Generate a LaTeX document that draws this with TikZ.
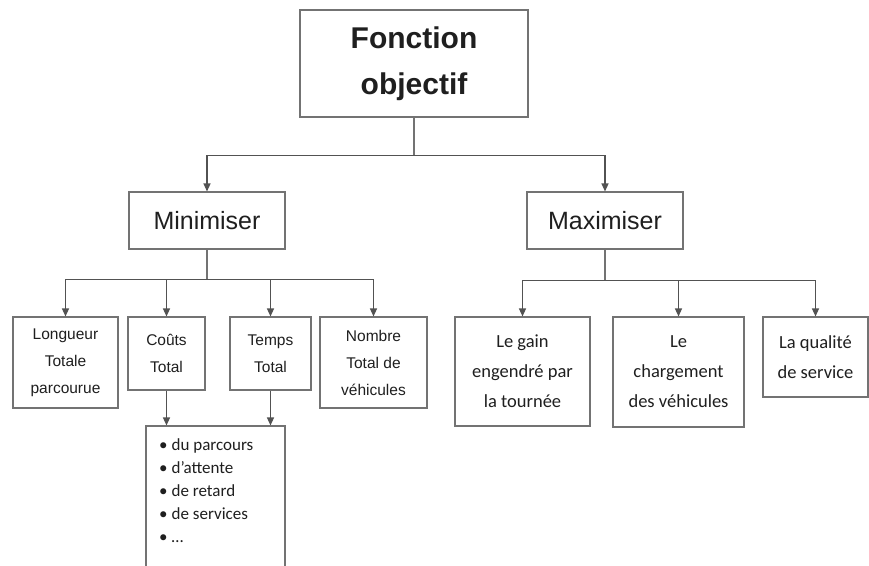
\documentclass[tikz,border=0pt]{standalone}
\usepackage{fontspec}
\setmainfont{Liberation Sans}
\newfontfamily\calib{Carlito}
\usetikzlibrary{arrows.meta}
\newcommand{\blt}{\textbullet\hspace{4pt}}
\begin{document}
\begin{tikzpicture}[x=1pt,y=-1pt,
  box/.style={draw=black!55,line width=1.1pt,fill=white,inner sep=0pt,align=center,text=black!88},
  arr/.style={draw=black!68,line width=1.3pt,-{Triangle[length=8pt,width=7pt]}},
  ln/.style={draw=black!55,line width=1.2pt},
  leftfont/.style={font=\fontsize{15.5}{27}\selectfont},
  rightfont/.style={font=\calib\fontsize{18.5}{30}\selectfont}]
\useasboundingbox (0,0) rectangle (869,565);
% top
\node[box,minimum width=228pt,minimum height=107pt,font=\bfseries\fontsize{30}{46}\selectfont] (top) at (414,63.5) {Fonction\\objectif};
\node[box,minimum width=156pt,minimum height=57pt,font=\fontsize{25}{30}\selectfont] (mini) at (207,220.5) {Minimiser};
\node[box,minimum width=156pt,minimum height=57pt,font=\fontsize{25}{30}\selectfont] (maxi) at (605,220.5) {Maximiser};
% left children
\node[box,leftfont,minimum width=105pt,minimum height=91pt] (lon) at (65.5,362.5) {Longueur\\Totale\\parcourue};
\node[box,leftfont,minimum width=77pt,minimum height=73pt] (cou) at (166.5,353.5) {Coûts\\Total};
\node[box,leftfont,minimum width=81pt,minimum height=73pt] (tem) at (270.5,353.5) {Temps\\Total};
\node[box,leftfont,minimum width=107pt,minimum height=91pt] (nom) at (373.5,362.5) {Nombre\\Total de\\véhicules};
% right children
\node[box,rightfont,minimum width=135pt,minimum height=109pt] (gain) at (522.5,371.5) {Le gain\\engendré par\\la tournée};
\node[box,rightfont,minimum width=131pt,minimum height=110pt] (cha) at (678.5,372) {Le\\chargement\\des véhicules};
\node[box,rightfont,minimum width=105pt,minimum height=80pt] (qua) at (815.5,357) {La qualité\\de service};
% list box
\node[box,minimum width=139pt,minimum height=146pt] (list) at (215.5,499) {};
\node[anchor=north west,inner sep=0pt,align=left,text=black!88,font=\calib\fontsize{17}{23}\selectfont] (items) at (159,438)
{\blt du parcours\\\blt d’attente\\\blt de retard\\\blt de services\\\blt …};
% connectors
\draw[ln] (top.south) -- ++(0,38) coordinate (tj);
\draw[arr] (tj) -| (mini.north);
\draw[arr] (tj) -| (maxi.north);
\draw[ln] (mini.south) -- ++(0,30) coordinate (mj);
\draw[arr] (mj) -| (lon.north);
\draw[arr] (mj) -| (cou.north);
\draw[arr] (mj) -| (tem.north);
\draw[arr] (mj) -| (nom.north);
\draw[ln] (maxi.south) -- ++(0,31) coordinate (xj);
\draw[arr] (xj) -| (gain.north);
\draw[arr] (xj) -| (cha.north);
\draw[arr] (xj) -| (qua.north);
\draw[arr] (cou.south) -- (cou.south |- list.north);
\draw[arr] (tem.south) -- (tem.south |- list.north);
\end{tikzpicture}
\end{document}
